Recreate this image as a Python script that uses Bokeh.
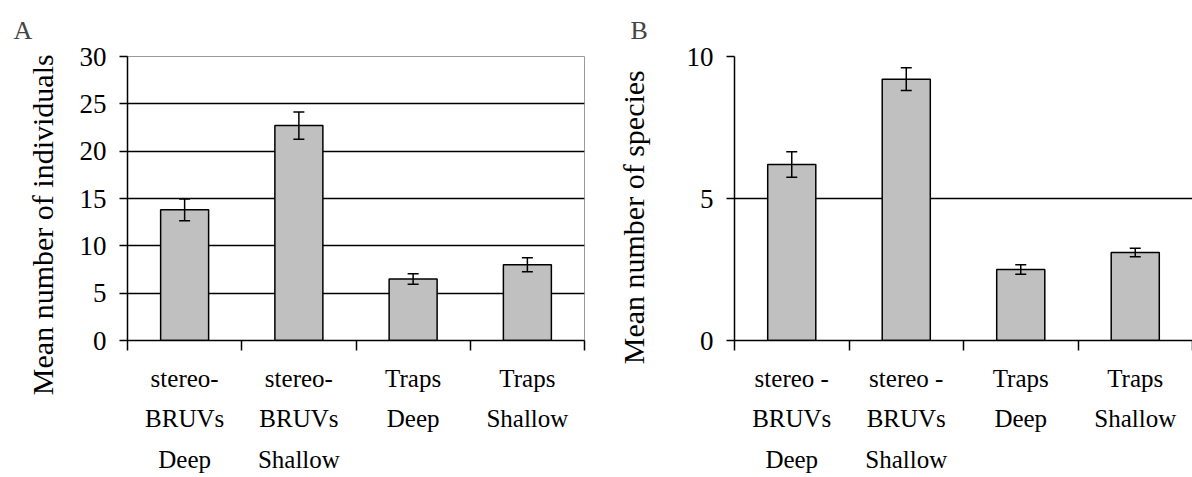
from bokeh.plotting import figure
from bokeh.models import FixedTicker, Whisker, ColumnDataSource, TeeHead, Range1d, Grid
from bokeh.layouts import row
from bokeh.embed import file_html
from bokeh.resources import INLINE

# ---- data ----
categories_a = ["stereo-\nBRUVs\nDeep", "stereo-\nBRUVs\nShallow", "Traps\nDeep", "Traps\nShallow"]
categories_b = ["stereo -\nBRUVs\nDeep", "stereo -\nBRUVs\nShallow", "Traps\nDeep", "Traps\nShallow"]
individuals_mean = [13.8, 22.7, 6.5, 8.0]
individuals_se = [1.15, 1.45, 0.55, 0.75]
species_mean = [6.2, 9.2, 2.5, 3.1]
species_se = [0.45, 0.4, 0.17, 0.15]
yticks_a = [0, 5, 10, 15, 20, 25, 30]
yticks_b = [0, 5, 10]
ytitle_a = "Mean number of individuals"
ytitle_b = "Mean number of species"

FONT = "Liberation Serif"
NBSP = "\u00a0"


def make_panel(letter, cats, means, errs, yticks, ytitle, width, height,
               mb_left, mb_top, mb_right, mb_bottom, title_offset, outline,
               ytitle_standoff, ytitle_pad):
    n = len(cats)
    xs = [i + 0.5 for i in range(n)]
    src = ColumnDataSource(dict(
        x=xs, top=means,
        upper=[m + e for m, e in zip(means, errs)],
        lower=[m - e for m, e in zip(means, errs)],
    ))
    p = figure(width=width, height=height,
               x_range=Range1d(0, n), y_range=Range1d(yticks[0], yticks[-1]),
               output_backend="svg", toolbar_location=None,
               min_border_left=mb_left, min_border_top=mb_top,
               min_border_right=mb_right, min_border_bottom=mb_bottom,
               background_fill_color="white", border_fill_color="white")

    p.vbar(x="x", top="top", bottom=0, width=0.42, source=src,
           fill_color="#c0c0c0", line_color="black", line_width=1.5)

    w = Whisker(base="x", upper="upper", lower="lower", source=src,
                line_color="black", line_width=1.5, level="overlay",
                upper_head=TeeHead(size=11, line_color="black", line_width=1.5),
                lower_head=TeeHead(size=11, line_color="black", line_width=1.5))
    p.add_layout(w)

    # grid
    p.xgrid.visible = False
    p.ygrid.ticker = FixedTicker(ticks=yticks[1:-1])
    p.ygrid.grid_line_color = "black"
    p.ygrid.grid_line_width = 1.5

    if outline:
        p.outline_line_color = "#9a9a9a"
        p.outline_line_width = 1
    else:
        p.outline_line_color = None
        top_grid = Grid(dimension=1, ticker=FixedTicker(ticks=[yticks[-1]]),
                        grid_line_color="#9a9a9a", grid_line_width=1)
        p.add_layout(top_grid)

    # y axis
    ya = p.yaxis[0]
    ya.ticker = FixedTicker(ticks=yticks)
    ya.major_tick_out = 8
    ya.major_tick_in = 0
    ya.minor_tick_line_color = None
    ya.axis_line_width = 1.5
    ya.major_tick_line_width = 1.5
    ya.major_label_text_font = FONT
    ya.major_label_text_font_size = "27px"
    ya.major_label_text_color = "black"
    ya.major_label_standoff = 13
    ya.axis_label = ytitle + NBSP * ytitle_pad
    ya.axis_label_text_font = FONT
    ya.axis_label_text_font_size = "30px"
    ya.axis_label_text_font_style = "normal"
    ya.axis_label_text_color = "black"
    ya.axis_label_standoff = ytitle_standoff

    # x axis: ticks at category boundaries, names under each bar
    xa = p.xaxis[0]
    xa.ticker = FixedTicker(ticks=xs, minor_ticks=list(range(n + 1)))
    xa.major_label_overrides = {x: c for x, c in zip(xs, cats)}
    xa.major_tick_line_color = None
    xa.major_tick_out = 10
    xa.minor_tick_out = 10
    xa.minor_tick_in = 0
    xa.minor_tick_line_width = 1.5
    xa.minor_tick_line_color = "black"
    xa.axis_line_width = 1.5
    xa.major_label_text_font = FONT
    xa.major_label_text_font_size = "25px"
    xa.major_label_text_color = "black"
    xa.major_label_text_line_height = 1.5
    xa.major_label_standoff = 14

    # panel letter
    p.title.text = letter
    p.title.text_font = FONT
    p.title.text_font_size = "26px"
    p.title.text_font_style = "normal"
    p.title.align = "left"
    p.title.offset = title_offset
    p.title.standoff = 24
    return p


pa = make_panel("A", categories_a, individuals_mean, individuals_se, yticks_a,
                ytitle_a, 600, 477, 127, 56, 16, 137, -114, True, 18, 7)
pb = make_panel("B", categories_b, species_mean, species_se, yticks_b,
                ytitle_b, 592, 477, 134, 56, 0, 137, -104, False, 34, 5)

layout = row(pa, pb)
open("out.html", "w").write(file_html(layout, INLINE))
